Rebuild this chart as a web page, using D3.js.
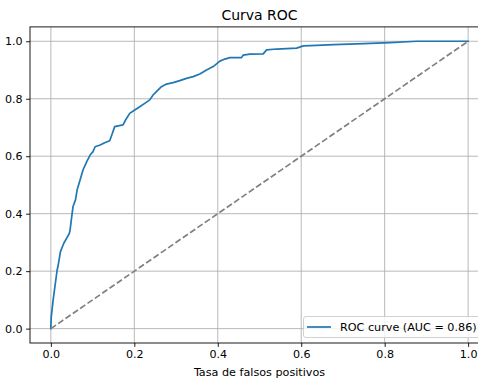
<!DOCTYPE html>
<html>
<head>
<meta charset="utf-8">
<script src="https://cdn.jsdelivr.net/npm/d3@7"></script>
<style>
  html, body { margin: 0; padding: 0; background: #fff; }
  svg { display: block; }
  text { font-family: "DejaVu Sans", sans-serif; fill: #000; }
</style>
</head>
<body>
<svg id="chart" width="478" height="387"></svg>
<script>
// Data
const fpr = [0, 0, 0.001, 0.0055, 0.015, 0.017, 0.023, 0.031, 0.041, 0.044, 0.046, 0.05, 0.053, 0.059, 0.063, 0.07, 0.077, 0.086, 0.094, 0.101, 0.106, 0.118, 0.129, 0.141, 0.146, 0.153, 0.173, 0.179, 0.189, 0.201, 0.213, 0.225, 0.237, 0.245, 0.253, 0.265, 0.277, 0.293, 0.309, 0.325, 0.341, 0.357, 0.373, 0.389, 0.405, 0.417, 0.429, 0.457, 0.461, 0.477, 0.509, 0.517, 0.541, 0.589, 0.605, 0.637, 0.677, 0.733, 0.813, 0.877, 1];
const tpr = [0, 0.007, 0.042, 0.1, 0.204, 0.216, 0.268, 0.297, 0.323, 0.33, 0.343, 0.39, 0.424, 0.448, 0.483, 0.517, 0.552, 0.581, 0.604, 0.616, 0.633, 0.639, 0.647, 0.654, 0.674, 0.703, 0.709, 0.726, 0.749, 0.761, 0.772, 0.784, 0.796, 0.813, 0.825, 0.842, 0.851, 0.856, 0.863, 0.871, 0.877, 0.886, 0.9, 0.912, 0.931, 0.938, 0.943, 0.943, 0.952, 0.955, 0.956, 0.970, 0.973, 0.976, 0.984, 0.986, 0.988, 0.991, 0.995, 1.0, 1.0];
const diagX = [0, 1];
const diagY = [0, 1];
const xTicks = [0, 0.2, 0.4, 0.6, 0.8, 1.0];
const yTicks = [0, 0.2, 0.4, 0.6, 0.8, 1.0];
const titleText = "Curva ROC";
const xLabel = "Tasa de falsos positivos";
const legendLabel = "ROC curve (AUC = 0.86)";

const svg = d3.select("#chart");
const L = 30, R = 489, T = 26.9, B = 343;
const x = d3.scaleLinear().domain([-0.05, 1.05]).range([L, R]);
const y = d3.scaleLinear().domain([-0.05, 1.05]).range([B, T]);

svg.append("defs").append("clipPath").attr("id", "clip")
  .append("rect").attr("x", L).attr("y", T).attr("width", R - L).attr("height", B - T);

// grid
const grid = svg.append("g");
grid.selectAll(".gx").data(xTicks).enter().append("line")
  .attr("x1", d => x(d)).attr("x2", d => x(d)).attr("y1", T).attr("y2", B)
  .attr("stroke", "#b0b0b0").attr("stroke-width", 0.9);
grid.selectAll(".gy").data(yTicks).enter().append("line")
  .attr("y1", d => y(d)).attr("y2", d => y(d)).attr("x1", L).attr("x2", R)
  .attr("stroke", "#b0b0b0").attr("stroke-width", 0.9);

const plot = svg.append("g").attr("clip-path", "url(#clip)");
const pts = fpr.map((v, i) => [v, tpr[i]]);
plot.append("path").datum(pts)
  .attr("d", d3.line().x(d => x(d[0])).y(d => y(d[1])))
  .attr("fill", "none").attr("stroke", "#1f77b4").attr("stroke-width", 1.7)
  .attr("stroke-linejoin", "round").attr("stroke-linecap", "square");
plot.append("path").datum(diagX.map((v, i) => [v, diagY[i]]))
  .attr("d", d3.line().x(d => x(d[0])).y(d => y(d[1])))
  .attr("fill", "none").attr("stroke", "#808080").attr("stroke-width", 1.7)
  .attr("stroke-dasharray", "6.2,2.7");

// axes
const fmt = d3.format(".1f");
const xAxis = d3.axisBottom(x).tickValues(xTicks).tickFormat(fmt).tickSize(3.9).tickPadding(3.5);
const yAxis = d3.axisLeft(y).tickValues(yTicks).tickFormat(fmt).tickSize(3.9).tickPadding(3.5);
const gx = svg.append("g").attr("transform", `translate(0,${B})`).call(xAxis);
const gy = svg.append("g").attr("transform", `translate(${L},0)`).call(yAxis);
[gx, gy].forEach(g => {
  g.select(".domain").remove();
  g.selectAll("line").attr("stroke", "#000").attr("stroke-width", 0.9);
  g.selectAll("text").attr("font-size", 11.1).attr("font-family", "DejaVu Sans").attr("fill", "#000");
});

// spines
svg.append("rect").attr("x", L).attr("y", T).attr("width", R - L).attr("height", B - T)
  .attr("fill", "none").attr("stroke", "#000").attr("stroke-width", 0.9);

// title & label
svg.append("text").attr("x", (L + R) / 2).attr("y", 20).attr("text-anchor", "middle")
  .attr("font-size", 14).text(titleText);
svg.append("text").attr("x", (L + R) / 2).attr("y", 376).attr("text-anchor", "middle")
  .attr("font-size", 11.2).text(xLabel);

// legend
const lg = svg.append("g");
lg.append("rect").attr("x", 303.5).attr("y", 316.5).attr("width", 180).attr("height", 21)
  .attr("rx", 2.5).attr("fill", "#fff").attr("fill-opacity", 0.8)
  .attr("stroke", "#cccccc").attr("stroke-width", 0.9);
lg.append("line").attr("x1", 307).attr("x2", 331).attr("y1", 327).attr("y2", 327)
  .attr("stroke", "#1f77b4").attr("stroke-width", 1.7);
lg.append("text").attr("x", 340).attr("y", 331).attr("font-size", 11.2).text(legendLabel);
</script>
</body>
</html>
